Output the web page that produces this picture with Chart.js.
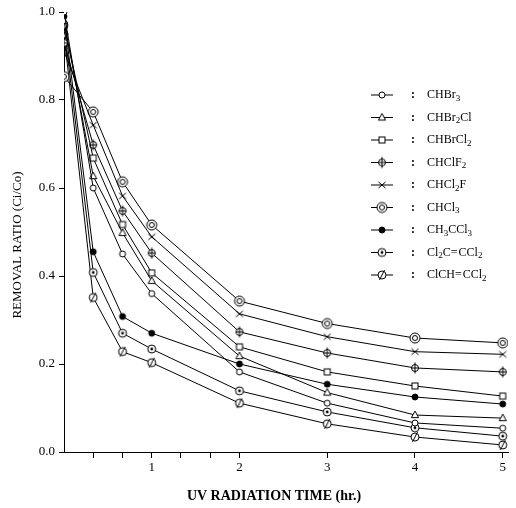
<!DOCTYPE html>
<html>
<head>
<meta charset="utf-8">
<script src="https://cdn.jsdelivr.net/npm/chart.js@4.4.1/dist/chart.umd.min.js"></script>
<style>
  html, body { margin: 0; padding: 0; background: #fff; }
  #wrap { width: 516px; height: 508px; }
</style>
</head>
<body>
<div id="wrap"><canvas id="myChart" width="516" height="508"></canvas></div>
<script>
// sampling times (hr.)
const times = [0, 0.333, 0.667, 1, 2, 3, 4, 5];

// removal ratio Ci/Co
const chbr3 = [1.0, 0.6, 0.45, 0.36, 0.182, 0.111, 0.066, 0.054];
const chbr2cl = [0.98, 0.627, 0.498, 0.389, 0.218, 0.135, 0.084, 0.077];
const chbrcl2 = [0.97, 0.668, 0.517, 0.407, 0.239, 0.182, 0.15, 0.127];
const chclf2 = [0.93, 0.698, 0.548, 0.452, 0.273, 0.225, 0.191, 0.182];
const chcl2f = [0.91, 0.743, 0.582, 0.489, 0.314, 0.262, 0.228, 0.222];
const chcl3 = [0.853, 0.773, 0.614, 0.516, 0.343, 0.292, 0.259, 0.248];
const ch3ccl3 = [0.99, 0.455, 0.308, 0.27, 0.2, 0.154, 0.125, 0.109];
const cl2cccl2 = [0.97, 0.408, 0.27, 0.234, 0.139, 0.091, 0.055, 0.036];
const clchccl2 = [0.95, 0.351, 0.228, 0.203, 0.111, 0.064, 0.034, 0.016];

const seriesNames = ["CHBr3", "CHBr2Cl", "CHBrCl2", "CHClF2", "CHCl2F",
  "CHCl3", "CH3CCl3", "Cl2C=CCl2", "ClCH=CCl2"];
const seriesValues = [chbr3, chbr2cl, chbrcl2, chclf2, chcl2f,
  chcl3, ch3ccl3, cl2cccl2, clchccl2];
const seriesMarkers = ["circle", "triangle", "square", "phi", "x",
  "double", "filled", "dot", "slash"];

const xTicks = [0.333, 0.667, 1, 1.333, 1.667, 2, 3, 4, 5];

const SERIF = "'Liberation Serif', 'DejaVu Serif', serif";

// marker images
function makeMarker(kind) {
  const c = document.createElement("canvas");
  c.width = 16;
  c.height = 16;
  const g = c.getContext("2d");
  g.translate(8, 8);
  g.strokeStyle = "#000";
  g.fillStyle = "#fff";
  g.lineWidth = 1;
  const circ = (r, fill) => {
    g.beginPath();
    g.arc(0, 0, r, 0, Math.PI * 2);
    g.fillStyle = fill;
    g.fill();
    g.stroke();
  };
  const line = (x1, y1, x2, y2) => {
    g.beginPath();
    g.moveTo(x1, y1);
    g.lineTo(x2, y2);
    g.stroke();
  };
  if (kind === "circle") {
    circ(3, "#fff");
  } else if (kind === "triangle") {
    g.beginPath();
    g.moveTo(0, -4);
    g.lineTo(3.6, 2.6);
    g.lineTo(-3.6, 2.6);
    g.closePath();
    g.fill();
    g.stroke();
  } else if (kind === "square") {
    g.fillRect(-3, -3, 6, 6);
    g.strokeRect(-3, -3, 6, 6);
  } else if (kind === "phi") {
    circ(3.5, "#fff");
    line(0, -5.5, 0, 5.5);
    line(-3.5, 0, 3.5, 0);
  } else if (kind === "x") {
    line(-3.5, -3, 3.5, 3);
    line(-3.5, 3, 3.5, -3);
  } else if (kind === "double") {
    circ(5, "#fff");
    circ(2.5, "#fff");
  } else if (kind === "filled") {
    circ(3, "#000");
  } else if (kind === "dot") {
    circ(4, "#fff");
    g.beginPath();
    g.arc(0, 0, 1.4, 0, Math.PI * 2);
    g.fillStyle = "#000";
    g.fill();
  } else if (kind === "slash") {
    circ(4, "#fff");
    line(-2.5, 5, 2.5, -5);
  }
  return c;
}

const markerImages = seriesMarkers.map(makeMarker);

// draw text where digits become subscripts
function drawChem(ctx, text, x, y, size) {
  let cx = x;
  for (const ch of text) {
    const sub = /[0-9]/.test(ch);
    ctx.font = (sub ? size * 0.75 : size) + "px " + SERIF;
    ctx.fillText(ch, cx, sub ? y + size * 0.28 : y);
    cx += ctx.measureText(ch).width + (ch === "=" ? 1 : 0);
  }
}

const legendAndTitles = {
  id: "legendAndTitles",
  afterDraw(chart) {
    const ctx = chart.ctx;
    ctx.save();
    ctx.fillStyle = "#000";
    ctx.strokeStyle = "#000";
    ctx.lineWidth = 1;
    ctx.textBaseline = "middle";
    ctx.textAlign = "left";

    // legend
    seriesNames.forEach((name, i) => {
      const y = 95 + 22.5 * i;
      ctx.beginPath();
      ctx.moveTo(371, y);
      ctx.lineTo(393, y);
      ctx.stroke();
      const img = markerImages[i];
      ctx.drawImage(img, 382 - img.width / 2, y - img.height / 2);
      ctx.font = "bold 12px " + SERIF;
      ctx.fillText(":", 411, y);
      drawChem(ctx, name, 427, y, 12);
    });

    // x title
    ctx.font = "bold 14px " + SERIF;
    ctx.textAlign = "center";
    ctx.fillText("UV RADIATION TIME (hr.)", 274, 496);

    // y title
    ctx.translate(18, 245);
    ctx.rotate(-Math.PI / 2);
    ctx.font = "13px " + SERIF;
    ctx.fillText("REMOVAL RATIO (Ci/Co)", 0, 0);
    ctx.restore();
  },
};

const datasets = seriesNames.map((name, i) => ({
  label: name,
  data: times.map((t, j) => ({ x: t, y: seriesValues[i][j] })),
  borderColor: "#000",
  borderWidth: 1,
  pointStyle: markerImages[i],
  pointRadius: 4,
  tension: 0,
  fill: false,
}));

const ctx = document.getElementById("myChart").getContext("2d");
new Chart(ctx, {
  type: "line",
  data: { datasets },
  plugins: [legendAndTitles],
  options: {
    responsive: false,
    animation: false,
    layout: { padding: { left: 0, right: 8, top: 12, bottom: 0 } },
    plugins: {
      legend: { display: false },
      tooltip: { enabled: false },
    },
    scales: {
      x: {
        type: "linear",
        min: 0,
        max: 5.06,
        afterBuildTicks: (scale) => {
          scale.ticks = xTicks.map((v) => ({ value: v }));
        },
        afterFit: (scale) => {
          scale.height = 56;
        },
        ticks: {
          autoSkip: false,
          maxRotation: 0,
          padding: 2,
          color: "#000",
          font: { family: SERIF, size: 13 },
          callback: (v) => (Number.isInteger(v) ? String(v) : ""),
        },
        grid: {
          drawOnChartArea: false,
          drawTicks: true,
          tickLength: 6,
          color: "#000",
        },
        border: { display: true, color: "#000", width: 1 },
      },
      y: {
        min: 0,
        max: 1,
        afterFit: (scale) => {
          scale.width = 64;
        },
        ticks: {
          stepSize: 0.2,
          padding: 4,
          color: "#000",
          font: { family: SERIF, size: 13 },
          callback: (v) => v.toFixed(1),
        },
        grid: {
          drawOnChartArea: false,
          drawTicks: true,
          tickLength: 5,
          color: "#000",
        },
        border: { display: true, color: "#000", width: 1 },
      },
    },
  },
});
</script>
</body>
</html>
